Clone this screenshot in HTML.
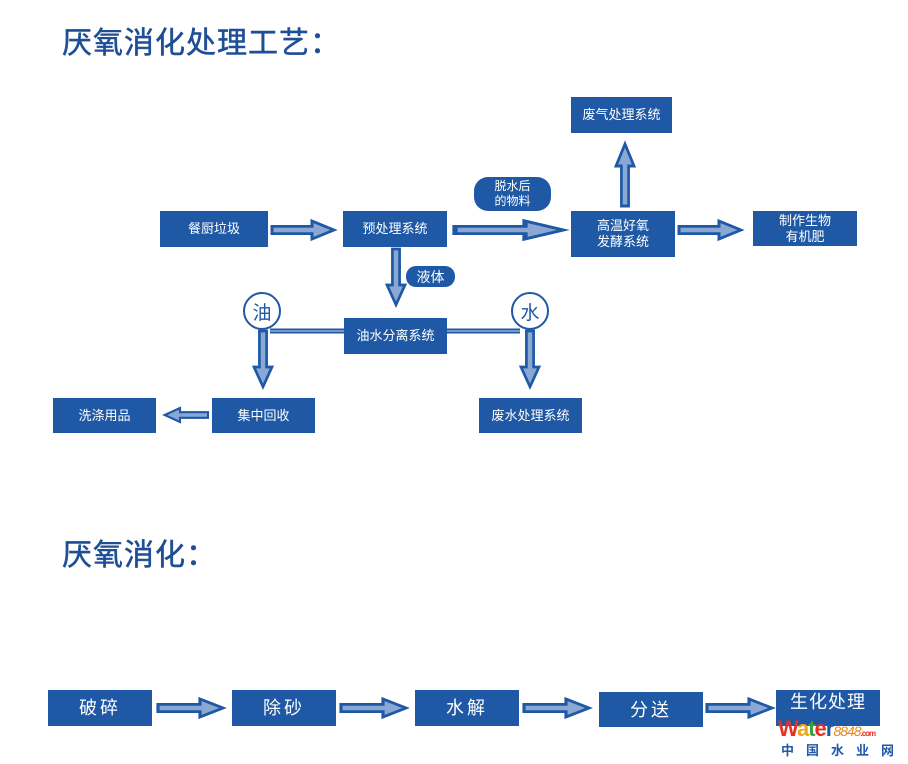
<!DOCTYPE html>
<html><head><meta charset="utf-8"><style>
body{margin:0;width:908px;height:764px;background:#fff;position:relative;overflow:hidden;font-family:"Liberation Sans","Noto Sans CJK SC",sans-serif}
.b{position:absolute;background:#1f58a4;color:#fff;display:flex;align-items:center;justify-content:center;text-align:center;font-size:13px;line-height:16px}
.t{position:absolute;color:#1e4f96;font-size:30px;left:62px;letter-spacing:1px;-webkit-text-stroke:0.5px #1e4f96}
.big{font-size:18px;letter-spacing:3px}
.c{position:absolute;width:34px;height:34px;border:2px solid #1f58a4;border-radius:50%;background:#fff;color:#1f58a4;font-size:19px;display:flex;align-items:center;justify-content:center}
svg{position:absolute;left:0;top:0}
</style></head><body>
<div class="t" style="top:18px">厌氧消化处理工艺：</div>
<div class="t" style="top:530px">厌氧消化：</div>
<svg width="908" height="764">
<defs><g id="ah"><path d="M0,-4 H40 V-10 L62,0 L40,10 V4 H0 Z" fill="#8aa8d4" stroke="#1f58a4" stroke-width="3"/></g></defs>
<line x1="270" y1="331" x2="520" y2="331" stroke="#1f58a4" stroke-width="5"/>
<line x1="270" y1="331" x2="520" y2="331" stroke="#cfd9ea" stroke-width="1"/>
<use href="#ah" transform="translate(272,230) scale(1,0.9)"/>
<use href="#ah" transform="translate(455,230) scale(1.75,0.9)"/>
<use href="#ah" transform="translate(679,230) scale(1,0.9)"/>
<use href="#ah" transform="translate(625,206) rotate(-90) scale(1,0.9)"/>
<use href="#ah" transform="translate(396,249) rotate(90) scale(0.9,0.9)"/>
<use href="#ah" transform="translate(263,331) rotate(90) scale(0.9,0.9)"/>
<use href="#ah" transform="translate(530,331) rotate(90) scale(0.9,0.9)"/>
<use href="#ah" transform="translate(208,415) rotate(180) scale(0.7,0.7)"/>
<use href="#ah" transform="translate(158,708) scale(1.05,0.9)"/>
<use href="#ah" transform="translate(341,708) scale(1.05,0.9)"/>
<use href="#ah" transform="translate(524,708) scale(1.05,0.9)"/>
<use href="#ah" transform="translate(707,708) scale(1.05,0.9)"/>
</svg>
<div class="b" style="left:160px;top:211px;width:108px;height:36px">餐厨垃圾</div>
<div class="b" style="left:343px;top:211px;width:104px;height:36px">预处理系统</div>
<div class="b" style="left:571px;top:211px;width:104px;height:46px">高温好氧<br>发酵系统</div>
<div class="b" style="left:753px;top:211px;width:104px;height:35px">制作生物<br>有机肥</div>
<div class="b" style="left:571px;top:97px;width:101px;height:36px">废气处理系统</div>
<div class="b" style="left:474px;top:177px;width:77px;height:34px;border-radius:14px;font-size:12px;line-height:15px">脱水后<br>的物料</div>
<div class="b" style="left:406px;top:266px;width:49px;height:21px;border-radius:10px;font-size:14px">液体</div>
<div class="b" style="left:344px;top:318px;width:103px;height:36px">油水分离系统</div>
<div class="c" style="left:243px;top:292px">油</div>
<div class="c" style="left:511px;top:292px">水</div>
<div class="b" style="left:212px;top:398px;width:103px;height:35px">集中回收</div>
<div class="b" style="left:53px;top:398px;width:103px;height:35px">洗涤用品</div>
<div class="b" style="left:479px;top:398px;width:103px;height:35px">废水处理系统</div>
<div class="b big" style="left:48px;top:690px;width:104px;height:36px">破碎</div>
<div class="b big" style="left:232px;top:690px;width:104px;height:36px">除砂</div>
<div class="b big" style="left:415px;top:690px;width:104px;height:36px">水解</div>
<div class="b big" style="left:599px;top:692px;width:104px;height:35px">分送</div>
<div class="b big" style="left:776px;top:690px;width:104px;height:36px;align-items:flex-start;padding-top:4px;box-sizing:border-box;letter-spacing:1px">生化处理</div>
<div style="position:absolute;left:778px;top:716px;font-size:22px;font-weight:bold;letter-spacing:-1px"><span style="color:#e53027">W</span><span style="color:#f2a516">a</span><span style="color:#3aa13a">t</span><span style="color:#e53027">e</span><span style="color:#1f58a4">r</span><span style="color:#e88a1a;font-size:14px;font-weight:normal;font-style:italic">8848</span><span style="color:#e53027;font-size:8px">.com</span></div>
<div style="position:absolute;left:781px;top:740px;font-size:13px;color:#1f58a4;font-weight:bold;letter-spacing:12px">中国水业网</div>
</body></html>
